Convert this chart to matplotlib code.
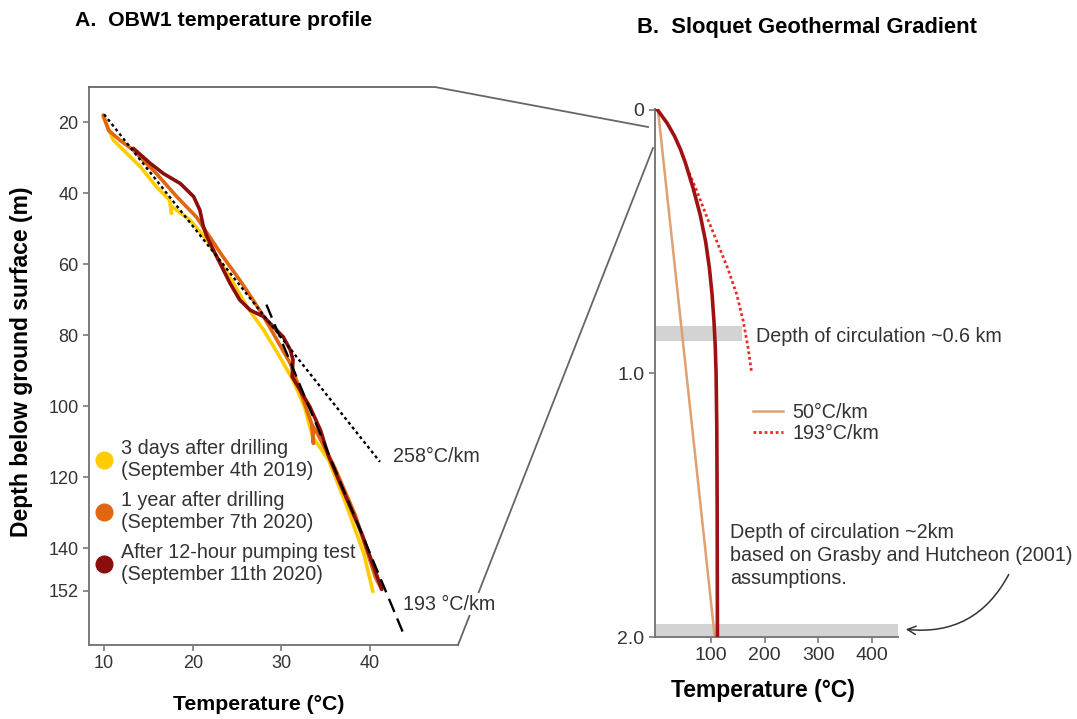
import matplotlib
matplotlib.use("Agg")
import matplotlib.pyplot as plt
from matplotlib.lines import Line2D
from matplotlib.patches import FancyArrowPatch

plt.rcParams["font.family"] = ["Liberation Sans", "DejaVu Sans"]

# ------------------------------------------------------------------ #
# Data                                                                 #
# ------------------------------------------------------------------ #

# Panel A: OBW1 temperature profiles (temperature degC, depth m)
sep2019_temp  = [9.9, 11.05, 12.2, 14.1, 15.9, 17.4, 17.6, 17.5, 19.7, 21.6, 22.7, 24.5,
                 26.1, 28.0, 29.8, 31.3, 32.6, 33.5, 35.3, 37.4, 39.3, 40.3]
sep2019_depth = [18.5, 25.1, 27.9, 32.6, 38.2, 42.0, 45.7, 43.5, 47.6, 53.2, 57.9, 65.0,
                 72.0, 78.6, 86.1, 92.7, 100.2, 108.6, 115.1, 128.4, 141.7, 152.2]

sep2020_temp  = [9.9, 10.5, 11.8, 13.3, 15.9, 18.2, 20.4, 21.9, 23.4, 25.3, 26.8, 28.0,
                 29.5, 31.0, 32.1, 33.0, 33.4, 33.6, 33.5, 34.0, 36.0, 38.3, 40.6, 41.3]
sep2020_depth = [18.0, 22.3, 25.1, 27.9, 34.5, 41.0, 46.7, 52.3, 57.9, 64.5, 70.1, 74.8,
                 81.4, 88.0, 95.5, 102.1, 104.9, 110.5, 105.5, 107.5, 117.3, 130.6, 148.3, 151.6]

pump_temp  = [13.3, 15.2, 16.7, 18.6, 20.1, 20.8, 21.2, 21.6, 22.7, 24.2, 25.3, 26.5, 28.0,
              29.1, 30.2, 31.0, 31.3, 31.2, 32.1, 33.2, 34.4, 35.3, 36.8, 39.1, 41.3]
pump_depth = [27.4, 31.6, 34.5, 37.3, 41.0, 44.8, 49.5, 52.3, 57.9, 65.4, 70.1, 73.0, 74.8,
              77.7, 80.5, 84.2, 87.0, 91.7, 95.5, 100.2, 106.8, 114.0, 122.9, 136.2, 151.6]

grad258_temp  = [10.0, 41.1]
grad258_depth = [17.8, 115.7]
grad193_temp  = [28.3, 43.8]
grad193_depth = [71.4, 164.4]

series_labels = ["3 days after drilling\n(September 4th 2019)",
                 "1 year after drilling\n(September 7th 2020)",
                 "After 12-hour pumping test\n(September 11th 2020)"]

depth_ticks_a = [20, 40, 60, 80, 100, 120, 140, 152]
temp_ticks_a  = [10, 20, 30, 40]

# Panel B: Sloquet geothermal gradient (temperature degC, depth km)
sloquet_temp  = [0, 18, 32, 43, 52, 67, 80, 90, 97, 102, 105.5, 108, 109.5, 110.8, 111.5, 112]
sloquet_depth = [0, 0.05, 0.1, 0.15, 0.2, 0.3, 0.4, 0.5, 0.6, 0.7, 0.8, 0.9, 1.0, 1.2, 1.5, 2.0]

grad50_temp  = [1, 107]
grad50_depth = [0, 2.0]

curve193_temp  = [55, 72, 91, 111, 131, 148, 160, 169, 176]
curve193_depth = [0.22, 0.3, 0.4, 0.5, 0.6, 0.7, 0.8, 0.9, 1.0]

band_shallow = (0.822, 0.878, 157)   # depth top, depth bottom, temperature extent
band_deep    = (1.95, 2.0, 449)

depth_ticks_b  = [0, 1.0, 2.0]
depth_labels_b = ["0", "1.0", "2.0"]
temp_ticks_b   = [100, 200, 300, 400]

# ------------------------------------------------------------------ #
# Layout helpers                                                       #
# ------------------------------------------------------------------ #

W, H = 1077, 719


def fx(x):
    return x / W


def fy(y):
    return 1 - y / H


def axrect(x0, y0, x1, y1):
    return [fx(x0), fy(y1), fx(x1) - fx(x0), fy(y0) - fy(y1)]


GRAY = "#7a7a7a"
TXT = "#333333"
YELLOW = "#ffcc00"
ORANGE = "#e0660f"
DARKRED = "#8b0d0d"
FS = 14.2

fig = plt.figure(figsize=(W / 100, H / 100), dpi=100)

# ------------------------------------------------------------------ #
# Panel A                                                              #
# ------------------------------------------------------------------ #

ax = fig.add_axes(axrect(89, 87, 458, 645))
ax.plot(sep2019_temp, sep2019_depth, color=YELLOW, lw=2.6, solid_capstyle="round", zorder=2)
ax.plot(sep2020_temp, sep2020_depth, color=ORANGE, lw=2.6, solid_capstyle="round", zorder=3)
ax.plot(pump_temp, pump_depth, color=DARKRED, lw=2.6, solid_capstyle="round", zorder=4)
ax.plot(grad258_temp, grad258_depth, color="black", lw=1.7, ls=(0, (1.3, 1.3)), zorder=5)
ax.plot(grad193_temp, grad193_depth, color="black", lw=1.7, ls=(0, (6, 3)), zorder=5)

ax.set_xlim(8.3, 49.9)
ax.set_ylim(167.3, 10.1)
ax.set_xticks(temp_ticks_a)
ax.set_yticks(depth_ticks_a)
for s in ("top", "right"):
    ax.spines[s].set_visible(False)
for s in ("left", "bottom"):
    ax.spines[s].set_color(GRAY)
    ax.spines[s].set_linewidth(1.4)
ax.tick_params(colors=GRAY, labelcolor=TXT, labelsize=13, length=4, width=1.2)
ax.set_xlabel("Temperature (°C)", fontsize=15.3, fontweight="bold", va="center", ha="center")
ax.xaxis.set_label_coords((259 - 89) / 369, (645 - 705) / 558)
ax.set_ylabel("Depth below ground surface (m)", fontsize=16.5, fontweight="bold",
              va="center", ha="center")
ax.yaxis.set_label_coords((22 - 89) / 369, (645 - 362) / 558)

handles = [Line2D([], [], ls="none", marker="o", ms=12, color=c)
           for c in (YELLOW, ORANGE, DARKRED)]
ax.legend(handles, series_labels, loc="upper left",
          bbox_to_anchor=(fx(94), fy(439)), bbox_transform=fig.transFigure,
          frameon=False, fontsize=FS, handlelength=1.0, handletextpad=0.35,
          labelspacing=0.55, borderaxespad=0, borderpad=0, labelcolor=TXT)

fig.text(fx(393), fy(456), "258°C/km", fontsize=FS, color=TXT, va="center")
fig.text(fx(403), fy(604), "193 °C/km", fontsize=FS, color=TXT, va="center",
         bbox=dict(facecolor="white", edgecolor="none", pad=1.0), zorder=10)

# callout outline joining the two panels
conn = dict(color="#666666", lw=1.3, transform=fig.transFigure, zorder=1)
fig.add_artist(Line2D([fx(89), fx(435), fx(648)], [fy(87), fy(87), fy(127)], **conn))
fig.add_artist(Line2D([fx(458), fx(653)], [fy(645), fy(148)], **conn))

# ------------------------------------------------------------------ #
# Panel B                                                              #
# ------------------------------------------------------------------ #

bx = fig.add_axes(axrect(655, 109, 898, 637))
bx.fill_betweenx(band_shallow[:2], -5, band_shallow[2], color="#d3d3d3", lw=0, zorder=1)
bx.fill_betweenx(band_deep[:2], -5, band_deep[2], color="#d3d3d3", lw=0, zorder=1)
bx.plot(grad50_temp, grad50_depth, color="#e0a070", lw=1.8, zorder=2, label="50°C/km")
bx.plot(curve193_temp, curve193_depth, color="#ee2a2a", lw=2.0, ls=(0, (1, 1)), zorder=2,
        label="193°C/km")
bx.plot(sloquet_temp, sloquet_depth, color="#a01212", lw=2.6, zorder=3,
        solid_joinstyle="round")

bx.set_xlim(-4.5, 449)
bx.set_ylim(2.0, -0.003)
bx.set_xticks(temp_ticks_b)
bx.set_yticks(depth_ticks_b)
bx.set_yticklabels(depth_labels_b)
for s in ("top", "right"):
    bx.spines[s].set_visible(False)
for s in ("left", "bottom"):
    bx.spines[s].set_color(GRAY)
    bx.spines[s].set_linewidth(1.4)
bx.tick_params(colors=GRAY, labelcolor=TXT, labelsize=14, length=4, width=1.2)
bx.set_xlabel("Temperature (°C)", fontsize=16.5, fontweight="bold", va="center", ha="center")
bx.xaxis.set_label_coords((763 - 655) / 243, (637 - 690) / 528)

bx.legend(loc="upper left", bbox_to_anchor=(fx(753), fy(403)), bbox_transform=fig.transFigure,
          frameon=False, fontsize=FS, handlelength=1.5, handletextpad=0.5,
          labelspacing=0.1, borderaxespad=0, borderpad=0, labelcolor=TXT)

fig.text(fx(756), fy(336), "Depth of circulation ~0.6 km", fontsize=FS, color=TXT, va="center")
fig.text(fx(730), fy(523), "Depth of circulation ~2km\nbased on Grasby and Hutcheon (2001)\nassumptions.",
         fontsize=FS, color=TXT, va="top", linespacing=1.27)
fig.add_artist(FancyArrowPatch(
    (fx(1010), fy(572)), (fx(903), fy(629)), transform=fig.transFigure,
    connectionstyle="arc3,rad=-0.35", arrowstyle="->,head_length=6,head_width=3",
    color="#333333", lw=1.1))

# titles
fig.text(fx(75), fy(20), "A.  OBW1 temperature profile", fontsize=15.3, fontweight="bold",
         va="center")
fig.text(fx(637), fy(27), "B.  Sloquet Geothermal Gradient", fontsize=15.8, fontweight="bold",
         va="center")

fig.savefig("out.png", dpi=100, facecolor="white")
